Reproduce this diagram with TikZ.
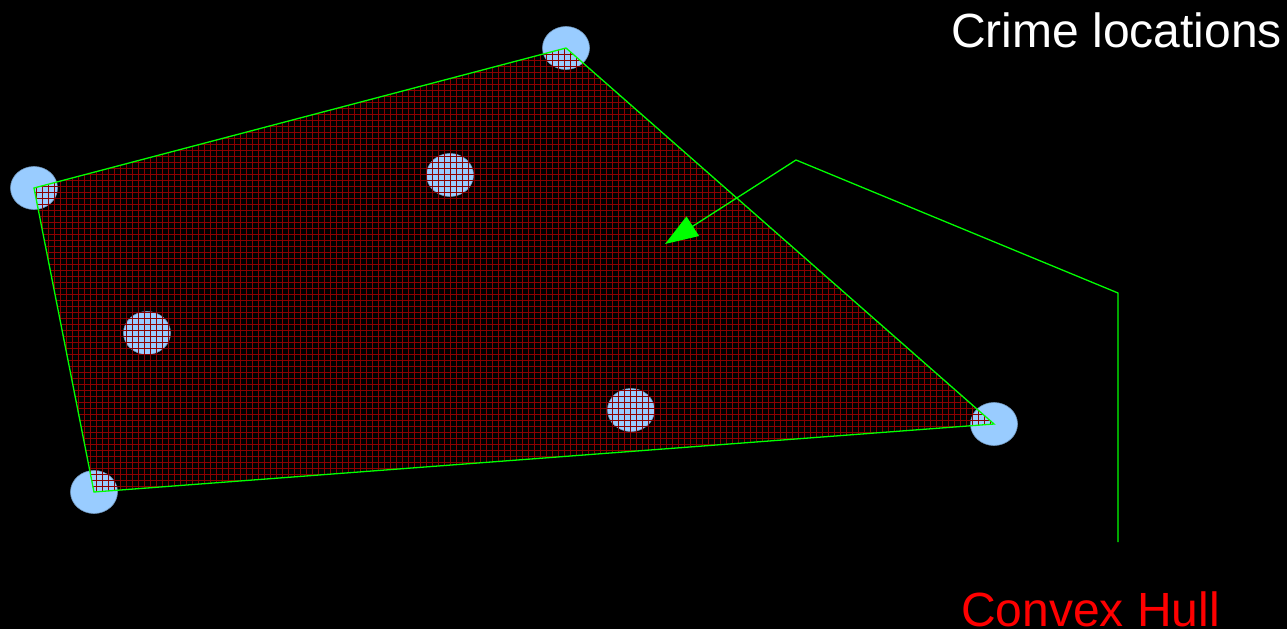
\documentclass[tikz,border=0pt]{standalone}
\usepackage{fontspec}
\setmainfont{Liberation Sans}
\usepackage{xcolor}
\usetikzlibrary{arrows.meta}
\usetikzlibrary{shapes.geometric, math}
\definecolor{crimeblue}{RGB}{153,204,255}
\definecolor{hullgreen}{RGB}{0,255,0}
\definecolor{gridred}{RGB}{140,0,0}

\begin{document}
\begin{tikzpicture}[x=1pt,y=-1pt]
\tikzmath{
\rx=23.5;
\ry=21.5;
}

\fill[black] (0,0) rectangle (1287,629);
\useasboundingbox (0,0) rectangle (1287,629);

% crime locations
\foreach \n/\px/\py in {a/34/188, b/566/48, c/994/424, d/94/492, e/450/175, f/147/333, g/631/410}
  \node[ellipse, fill=crimeblue, draw=crimeblue!75!black, line width=0.6, inner sep=0, minimum width=2*\rx, minimum height=2*\ry] (loc\n) at (\px,\py) {};

% hull, grid inside
\begin{scope}
\clip (loca.center) -- (locb.center) -- (locc.center) -- (locd.center) -- cycle;
\draw[gridred, line width=1, step=6pt, shift={(0.5,0.5)}] (0,0) grid (1287,629);
\end{scope}
\draw[hullgreen, line width=1.3] (loca.center) -- (locb.center) -- (locc.center) -- (locd.center) -- cycle;

\node[white, anchor=base west, inner sep=0, font=\fontsize{48}{58}\selectfont] (crimelabel) at (951,47) {Crime locations};
\node[red, anchor=base west, inner sep=0, font=\fontsize{48}{58}\selectfont] (hulllabel) at (961,626) {Convex Hull};

\coordinate (hullfoot) at (1118,542);
\coordinate (bendlow) at (1118,293);
\coordinate (bendhigh) at (796,160);
\coordinate (hullin) at (665,244);
\draw[hullgreen, line width=1.3, -{Triangle[length=33pt,width=23pt]}] (hullfoot) -- (bendlow) -- (bendhigh) -- (hullin);

\end{tikzpicture}
\end{document}
